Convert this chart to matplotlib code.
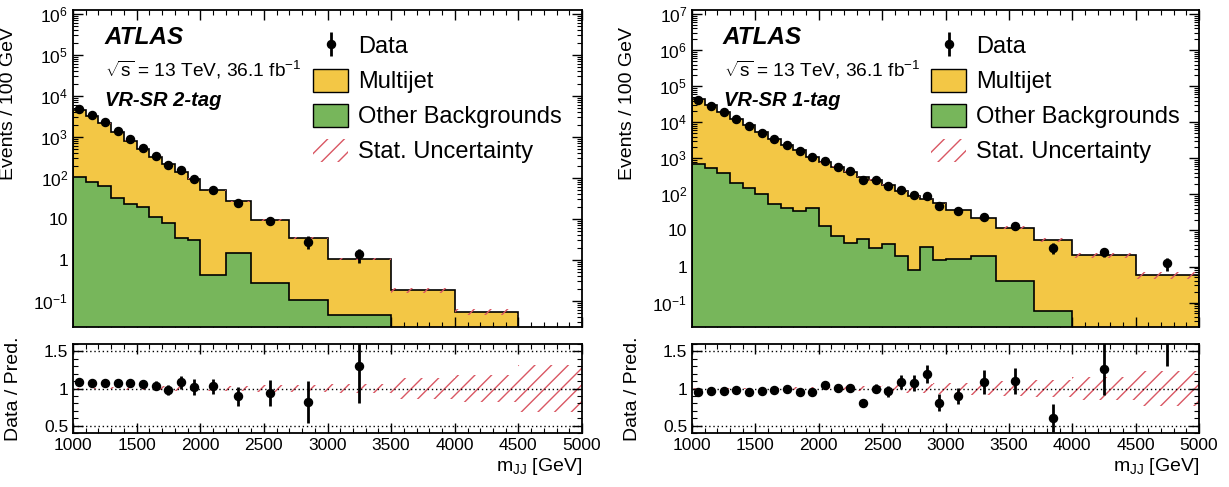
import numpy as np
import matplotlib
matplotlib.use("Agg")
import matplotlib.pyplot as plt
from matplotlib.patches import Patch
from matplotlib.ticker import MultipleLocator, LogLocator, FuncFormatter, NullFormatter

plt.rcParams['font.family'] = ['Liberation Sans', 'DejaVu Sans']
plt.rcParams['mathtext.fontset'] = 'custom'
plt.rcParams['mathtext.rm'] = 'Liberation Sans'
plt.rcParams['mathtext.it'] = 'Liberation Sans:italic'
plt.rcParams['mathtext.bf'] = 'Liberation Sans:bold'
plt.rcParams['hatch.linewidth'] = 1.0

YELLOW = '#f3c745'
GREEN = '#77b65b'
HATCH_RED = '#d95763'

# --- VR-SR 2-tag (Events / 100 GeV) ---
edges_2tag = [1000, 1100, 1200, 1300, 1400, 1500, 1600, 1700, 1800, 1900, 2000,
              2200, 2400, 2700, 3000, 3500, 4000, 4500, 5000]
multijet_2tag = [4395, 3169, 2077, 1268, 787, 490, 316, 209, 136.5, 91, 49.6,
                 25.5, 9.1, 3.3, 1.0, 0.18, 0.055, 0.012]
other_2tag = [105, 81, 63, 32, 23, 19.5, 11.2, 7.8, 3.5, 3.1, 0.43,
              1.5, 0.27, 0.104, 0.044, 0, 0, 0]
data_2tag = [4900, 3500, 2300, 1390, 870, 540, 340, 212, 152, 96, 51.5,
             24.2, 8.8, 2.8, 1.36, np.nan, np.nan, np.nan]
data_err_2tag = [70, 59, 48, 37, 29.5, 23, 18.4, 14.6, 12.3, 9.8, 5.1,
                 3.5, 1.7, 0.97, 0.52, np.nan, np.nan, np.nan]
stat_rel_2tag = [0.01, 0.01, 0.012, 0.015, 0.018, 0.02, 0.025, 0.028, 0.03, 0.032, 0.035,
                 0.04, 0.045, 0.05, 0.06, 0.14, 0.18, 0.32]

# --- VR-SR 1-tag (Events / 100 GeV) ---
edges_1tag = [1000, 1100, 1200, 1300, 1400, 1500, 1600, 1700, 1800, 1900, 2000,
              2100, 2200, 2300, 2400, 2500, 2600, 2700, 2800, 2900, 3000,
              3200, 3400, 3700, 4000, 4500, 5000]
multijet_1tag = [43800, 29450, 19100, 12290, 8250, 5200, 3395, 2307, 1616, 1077,
                 767, 573, 425, 304, 247, 176, 119, 89.2, 72.6, 56.5,
                 36.3, 19.5, 11.5, 5.44, 2.05, 0.59]
other_1tag = [710, 550, 400, 210, 147, 100, 55, 43, 34, 43,
              13, 7.2, 4.5, 5.9, 3.2, 4.2, 1.9, 0.8, 3.4, 1.55,
              1.66, 2.0, 0.40, 0.059, 0, 0]
data_1tag = [42500, 28900, 18800, 12200, 8000, 5100, 3400, 2340, 1580, 1070,
             820, 582, 434, 251, 250, 173, 132, 97, 91, 47,
             34, 23.4, 13.1, 3.3, 2.6, 1.27]
data_err_1tag = [206, 170, 137, 110, 89, 71, 58, 48, 40, 33,
                 29, 24, 21, 16, 16, 13, 11.5, 9.8, 9.5, 6.9,
                 4.1, 3.4, 2.1, 1.05, 0.72, 0.50]
stat_rel_1tag = [0.006, 0.006, 0.007, 0.008, 0.009, 0.01, 0.012, 0.014, 0.016, 0.018,
                 0.02, 0.025, 0.03, 0.035, 0.04, 0.045, 0.055, 0.06, 0.065, 0.07,
                 0.075, 0.085, 0.10, 0.12, 0.15, 0.23]


def log_label(v, pos):
    e = int(round(np.log10(v)))
    if e == 0:
        return '1'
    if e == 1:
        return '10'
    return r'$10^{%d}$' % e


def style_axes(ax):
    ax.tick_params(which='both', direction='in', top=True, right=True, labelsize=12.5)
    ax.tick_params(which='major', length=7, width=1.0)
    ax.tick_params(which='minor', length=3.5, width=0.8)
    for s in ax.spines.values():
        s.set_linewidth(1.3)


def draw_panel(ax, rax, edges, multijet, other, data, data_err, stat_rel, ylim, region):
    edges = np.asarray(edges, float)
    mj = np.asarray(multijet, float)
    ot = np.asarray(other, float)
    data = np.asarray(data, float)
    data_err = np.asarray(data_err, float)
    stat_rel = np.asarray(stat_rel, float)
    total = mj + ot
    centers = 0.5 * (edges[1:] + edges[:-1])
    floor = 1e-4
    tot_v = np.maximum(total, floor)
    oth_v = np.maximum(ot, floor)

    # stacked backgrounds
    ax.stairs(tot_v, edges, baseline=floor, fill=True, color=YELLOW, lw=0, zorder=1)
    ax.stairs(oth_v, edges, baseline=floor, fill=True, color=GREEN, lw=0, zorder=2)
    ax.stairs(tot_v, edges, baseline=floor, color='black', lw=1.2, zorder=3)
    ax.stairs(oth_v, edges, baseline=floor, color='black', lw=1.2, zorder=3)
    # stat. uncertainty band
    ax.stairs(tot_v * (1 + stat_rel), edges, baseline=tot_v * (1 - stat_rel), fill=True,
              facecolor='none', edgecolor=HATCH_RED, hatch='//', lw=0, zorder=4)
    ax.errorbar(centers, data, yerr=data_err, fmt='o', color='black', ms=5.8,
                elinewidth=2, capsize=0, zorder=5)

    ax.set_yscale('log')
    ax.set_xlim(1000, 5000)
    ax.set_ylim(*ylim)
    ax.yaxis.set_major_locator(LogLocator(base=10, numticks=20))
    ax.yaxis.set_minor_locator(LogLocator(base=10, subs=np.arange(2, 10), numticks=200))
    ax.yaxis.set_major_formatter(FuncFormatter(log_label))
    ax.yaxis.set_minor_formatter(NullFormatter())
    ax.xaxis.set_major_locator(MultipleLocator(500))
    ax.xaxis.set_minor_locator(MultipleLocator(100))
    ax.set_xticklabels([])
    style_axes(ax)
    ax.set_ylabel('Events / 100 GeV', fontsize=14)
    ax.yaxis.set_label_coords(-0.11, 0.705)

    ax.text(0.061, 0.912, 'ATLAS', transform=ax.transAxes, fontsize=17.5,
            fontweight='bold', fontstyle='italic', va='center')
    ax.text(0.063, 0.811, r'$\sqrt{\mathrm{s}}$ = 13 TeV, 36.1 fb$^{-1}$', transform=ax.transAxes,
            fontsize=13.8, va='center')
    ax.text(0.063, 0.716, region, transform=ax.transAxes, fontsize=14.5,
            fontweight='bold', fontstyle='italic', va='center')

    h_data = ax.errorbar([], [], yerr=[], fmt='o', color='black', ms=5.8, elinewidth=2, capsize=0)
    h_mj = Patch(facecolor=YELLOW, edgecolor='black', lw=1.0)
    h_ot = Patch(facecolor=GREEN, edgecolor='black', lw=1.0)
    h_st = Patch(facecolor='none', edgecolor=HATCH_RED, hatch='//', lw=0)
    ax.legend([h_data, h_mj, h_ot, h_st],
              ['Data', 'Multijet', 'Other Backgrounds', 'Stat. Uncertainty'],
              loc='upper left', bbox_to_anchor=(0.4715, 0.924), frameon=False,
              fontsize=17, borderpad=0, handlelength=1.5, handleheight=1.1,
              handletextpad=0.4, labelspacing=0.45, borderaxespad=0)

    # ratio panel
    rax.stairs(1 + stat_rel, edges, baseline=1 - stat_rel, fill=True,
               facecolor='none', edgecolor=HATCH_RED, hatch='//', lw=0, zorder=1)
    for yv in (0.5, 1.0, 1.5):
        rax.axhline(yv, color='black', ls=(0, (1, 2)), lw=1.0, zorder=2)
    rax.errorbar(centers, data / total, yerr=data_err / total, fmt='o', color='black',
                 ms=5.8, elinewidth=2, capsize=0, zorder=3)
    rax.set_xlim(1000, 5000)
    rax.set_ylim(0.4, 1.6)
    rax.yaxis.set_major_locator(MultipleLocator(0.5))
    rax.yaxis.set_minor_locator(MultipleLocator(0.1))
    rax.yaxis.set_major_formatter(FuncFormatter(lambda v, p: '%g' % v))
    rax.xaxis.set_major_locator(MultipleLocator(500))
    rax.xaxis.set_minor_locator(MultipleLocator(100))
    style_axes(rax)
    rax.set_ylabel('Data / Pred.', fontsize=14)
    rax.yaxis.set_label_coords(-0.1, 0.5)
    rax.set_xlabel(r'm$_{\rm JJ}$ [GeV]', fontsize=14, loc='right', labelpad=2)


fig = plt.figure(figsize=(12.29, 4.87), dpi=100)
ax1 = fig.add_axes([0.0594, 0.3285, 0.4142, 0.6510])
rax1 = fig.add_axes([0.0594, 0.1109, 0.4142, 0.1827])
ax2 = fig.add_axes([0.5631, 0.3285, 0.4125, 0.6510])
rax2 = fig.add_axes([0.5631, 0.1109, 0.4125, 0.1827])

draw_panel(ax1, rax1, edges_2tag, multijet_2tag, other_2tag, data_2tag, data_err_2tag,
           stat_rel_2tag, (0.023, 1.25e6), 'VR-SR 2-tag')
draw_panel(ax2, rax2, edges_1tag, multijet_1tag, other_1tag, data_1tag, data_err_1tag,
           stat_rel_1tag, (0.021, 1.3e7), 'VR-SR 1-tag')

fig.savefig('out.png', dpi=100)
